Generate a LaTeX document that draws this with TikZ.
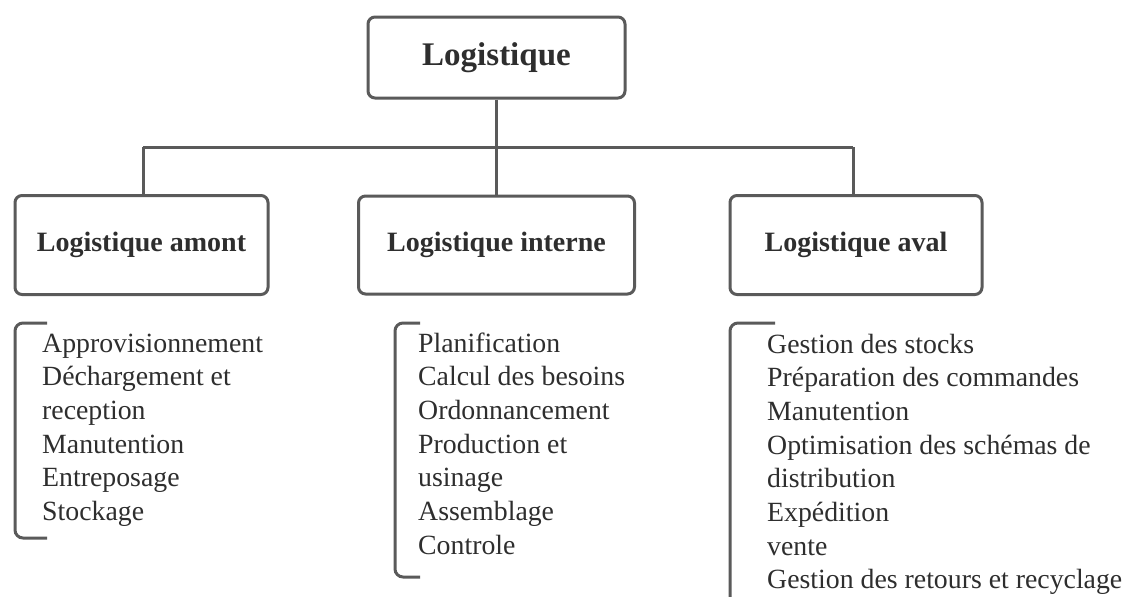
\documentclass[tikz,border=0pt]{standalone}
\usepackage{fontspec}
\setmainfont{Liberation Serif}
\definecolor{linegray}{HTML}{5A5A5A}
\definecolor{txtgray}{HTML}{2E2E2E}
\begin{document}
\begin{tikzpicture}[x=1pt,y=-1pt,
  box/.style={draw=linegray,line width=3pt,rounded corners=7pt,fill=white,inner sep=0pt,text=txtgray},
  conn/.style={draw=linegray,line width=3pt},
  brack/.style={draw=linegray,line width=3pt,rounded corners=8pt},
  list/.style={anchor=base west,inner sep=0pt,text=txtgray,font=\fontsize{27.8}{33.7}\selectfont}
]
\useasboundingbox (0,0) rectangle (1128,597);
\fill[white] (0,0) rectangle (1128,597);

% boxes
\node[box,minimum width=257pt,minimum height=81pt,font=\fontsize{33}{40}\selectfont\bfseries] (root) at (496.5,57.5) {Logistique};
\node[box,minimum width=253pt,minimum height=99pt,font=\fontsize{28}{34}\selectfont\bfseries] (amont) at (141.5,245) {Logistique amont};
\node[box,minimum width=276pt,minimum height=98pt,font=\fontsize{28}{34}\selectfont\bfseries] (interne) at (496.5,245) {Logistique interne};
\node[box,minimum width=252pt,minimum height=99pt,font=\fontsize{28}{34}\selectfont\bfseries] (aval) at (856,245) {Logistique aval};

% connectors
\coordinate (bus) at (496.5,147);
\coordinate (busL) at (143,147);
\coordinate (busR) at (853,147);
\draw[conn] (root.south) -- (bus);
\draw[conn] (busL) -- (busR);
\draw[conn] (busL) -- (busL |- amont.north);
\draw[conn] (bus) -- (interne.north);
\draw[conn] (busR) -- (busR |- aval.north);

% brackets
\coordinate (b1t) at (47,323);
\coordinate (b1b) at (47,538);
\draw[brack] (b1t) -- (15,323) -- (15,538) -- (b1b);
\coordinate (b2t) at (420,323);
\coordinate (b2b) at (420,577);
\draw[brack] (b2t) -- (395,323) -- (395,577) -- (b2b);
\coordinate (b3t) at (775,323);
\coordinate (b3b) at (730,597);
\draw[brack] (b3t) -- (730,323) -- (b3b);

% lists
\node[list] (l1) at (42,352) {\begin{tabular}[t]{@{}l@{}}Approvisionnement\\Déchargement et\\reception\\Manutention\\Entreposage\\Stockage\end{tabular}};
\node[list] (l2) at (418,352) {\begin{tabular}[t]{@{}l@{}}Planification\\Calcul des besoins\\Ordonnancement\\Production et\\usinage\\Assemblage\\Controle\end{tabular}};
\node[list] (l3) at (767,353) {\begin{tabular}[t]{@{}l@{}}Gestion des stocks\\Préparation des commandes\\Manutention\\Optimisation des schémas de\\distribution\\Expédition\\vente\\Gestion des retours et recyclage\end{tabular}};
\end{tikzpicture}
\end{document}
